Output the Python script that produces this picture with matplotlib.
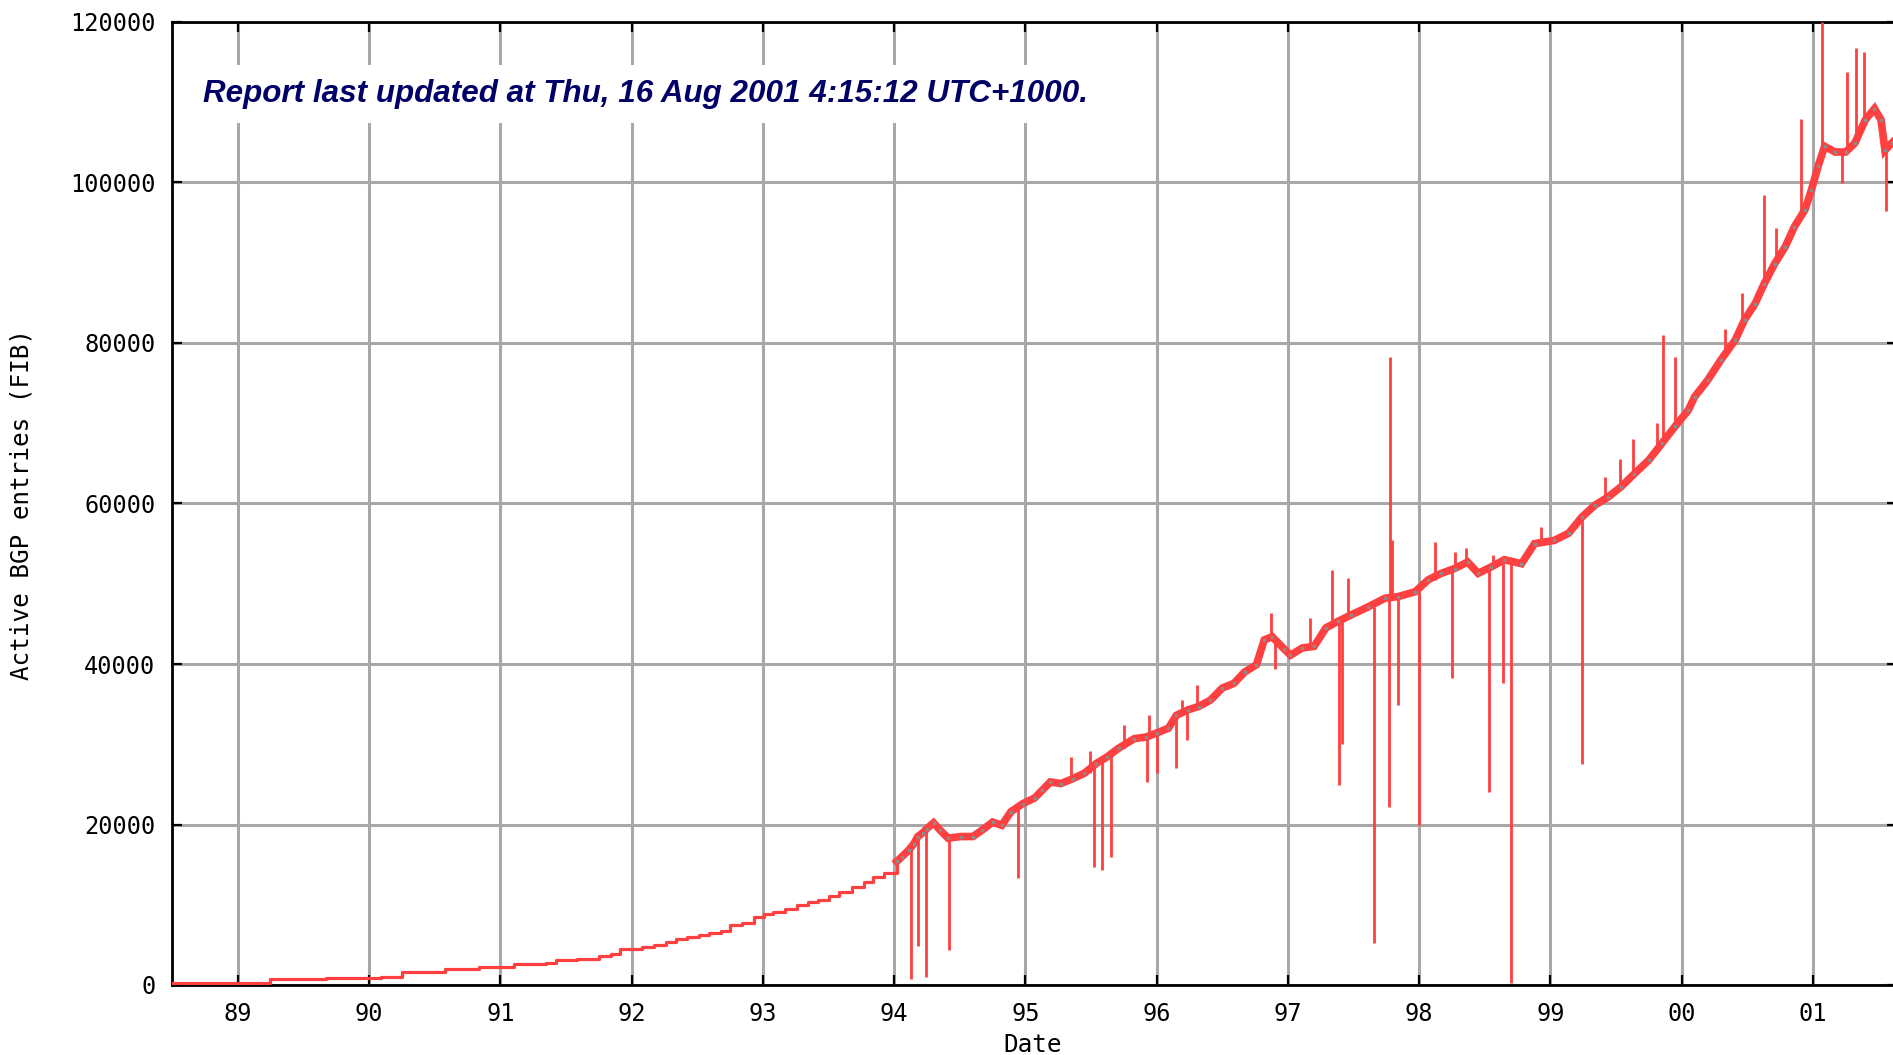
import numpy as np
import matplotlib
matplotlib.use('Agg')
import matplotlib.pyplot as plt

# --- data (decimal year, number of FIB entries) ---

# monthly snapshots up to 1994 (drawn as a staircase)
early_years = [88.50, 89.24, 89.67, 90.09, 90.25, 90.58, 90.84, 91.10, 91.35,
               91.42, 91.58, 91.75, 91.84, 91.91, 92.08, 92.17, 92.26, 92.34,
               92.42, 92.51, 92.59, 92.68, 92.75, 92.84, 92.93, 93.01, 93.08,
               93.17, 93.26, 93.34, 93.42, 93.50, 93.58, 93.68, 93.77, 93.84,
               93.92, 94.02]
early_counts = [200, 700, 910, 1030, 1620, 2030, 2240, 2580, 2780,
                3100, 3280, 3610, 3860, 4450, 4780, 5030, 5360, 5690,
                5940, 6190, 6440, 6730, 7440, 7760, 8510, 8810, 9130,
                9510, 9970, 10300, 10590, 11090, 11590, 12250, 12870, 13420,
                13990, 15400]

# daily samples from 1994 on (main trend of the noisy band)
daily_years = [94.02, 94.06, 94.11, 94.15, 94.18, 94.22, 94.25, 94.30, 94.35,
               94.41, 94.51, 94.60, 94.67, 94.75, 94.82, 94.89, 94.98, 95.07,
               95.13, 95.19, 95.27, 95.36, 95.45, 95.54, 95.62, 95.71, 95.83,
               95.92, 96.00, 96.09, 96.15, 96.24, 96.32, 96.41, 96.50, 96.59,
               96.67, 96.76, 96.82, 96.88, 96.97, 97.02, 97.11, 97.20, 97.29,
               97.38, 97.48, 97.61, 97.74, 97.84, 97.97, 98.07, 98.17, 98.27,
               98.37, 98.45, 98.55, 98.65, 98.78, 98.88, 99.03, 99.14, 99.24,
               99.34, 99.44, 99.54, 99.64, 99.75, 99.85, 99.95, 100.05, 100.10,
               100.20, 100.30, 100.41, 100.48, 100.56, 100.63, 100.71, 100.79,
               100.86, 100.94, 100.99, 101.04, 101.09, 101.17, 101.25, 101.32,
               101.40, 101.47, 101.52, 101.55, 101.60, 101.64]
daily_counts = [15400, 16000, 16800, 17600, 18500, 19000, 19500, 20200, 19300,
                18300, 18500, 18500, 19300, 20300, 19900, 21600, 22600, 23300,
                24300, 25300, 25100, 25700, 26400, 27600, 28400, 29500, 30700,
                30900, 31400, 32000, 33600, 34300, 34700, 35500, 37000, 37600,
                39000, 39900, 43000, 43400, 41900, 41100, 42000, 42200, 44500,
                45300, 46100, 47100, 48200, 48400, 49000, 50500, 51300, 51900,
                52700, 51300, 52100, 53000, 52500, 55000, 55400, 56300, 58300,
                59800, 60800, 62100, 63700, 65400, 67500, 69600, 71600, 73300,
                75400, 77900, 80400, 82900, 84900, 87400, 89900, 92000,
                94500, 96600, 99100, 102000, 104500, 103800, 103800, 104900,
                107800, 109200, 107800, 104000, 104900, 105500]

# short-lived drops (year, bottom, top)
drop_years = [94.13, 94.18, 94.24, 94.42, 94.94, 95.52, 95.58, 95.65, 95.93,
              96.00, 96.15, 96.23, 96.90, 97.39, 97.41, 97.66, 97.77, 97.84,
              98.00, 98.25, 98.53, 98.64, 98.70, 99.24, 101.22, 101.56]
drop_low = [700, 4900, 1000, 4400, 13300, 14700, 14300, 16000, 25300,
            26400, 27000, 30500, 39400, 24900, 30000, 5200, 22200, 34900,
            19900, 38200, 24100, 37600, 300, 27600, 99900, 96400]
drop_high = [17000, 18500, 19500, 18300, 22500, 27500, 28200, 29000, 31000,
             31400, 33600, 34200, 43400, 45400, 45500, 47100, 48000, 48400,
             49000, 51900, 52100, 52900, 52900, 58300, 103800, 104500]

# short-lived peaks (year, bottom, top)
peak_years = [95.35, 95.49, 95.75, 95.94, 96.19, 96.31, 96.87, 97.17, 97.34,
              97.46, 97.78, 97.79, 98.12, 98.27, 98.36, 98.56, 98.93, 99.42,
              99.53, 99.63, 99.81, 99.86, 99.95, 100.33, 100.46, 100.63,
              100.72, 100.91, 101.07, 101.26, 101.33, 101.39]
peak_low = [25700, 26400, 29500, 30900, 33600, 34600, 43400, 42000, 45000,
            46100, 48200, 48200, 50500, 51900, 52700, 52100, 55000, 60800,
            62000, 63700, 66500, 67300, 69500, 78500, 82000, 87400,
            90000, 95800, 104000, 103800, 105000, 107500]
peak_high = [28400, 29100, 32400, 33600, 35500, 37400, 46300, 45700, 51700,
             50700, 78300, 55500, 55200, 53900, 54400, 53600, 57100, 63300,
             65500, 68000, 70000, 81000, 78300, 81800, 86200, 98400,
             94300, 107900, 120000, 113800, 116700, 116300]

year_ticks = list(range(89, 102))
year_labels = ['89', '90', '91', '92', '93', '94', '95', '96', '97', '98',
               '99', '00', '01']
count_ticks = [0, 20000, 40000, 60000, 80000, 100000, 120000]

title = 'Report last updated at Thu, 16 Aug 2001 4:15:12 UTC+1000.'

red = '#ff4040'
grid_grey = '#a8a8a8'
mono = 'DejaVu Sans Mono'

fig = plt.figure(figsize=(18.93, 10.55), dpi=100)
ax = fig.add_axes([172 / 1893, 1 - 985 / 1055, 1 - 172 / 1893 + 0.002, (985 - 22) / 1055])

ax.step(early_years, early_counts, where='post', color=red, lw=2.3, zorder=3)
ax.plot(daily_years, daily_counts, color=red, lw=5.5, zorder=3,
        solid_joinstyle='miter')
ax.vlines(drop_years, drop_low, drop_high, color=red, lw=2, zorder=3)
ax.vlines(peak_years, peak_low, peak_high, color=red, lw=2, zorder=3)
ax.plot(daily_years, daily_counts, ls='none', marker='s', ms=1.6,
        color='#8c8c8c', zorder=4)

ax.set_xlim(88.497, 101.64)
ax.set_ylim(0, 120000)
ax.set_xticks(year_ticks)
ax.set_xticklabels(year_labels)
ax.set_yticks(count_ticks)
ax.set_yticklabels([str(v) for v in count_ticks])

ax.grid(True, color=grid_grey, lw=2.2, zorder=1)
ax.set_axisbelow(True)
ax.tick_params(direction='in', length=7, width=1.6, top=True, right=True,
               labelsize=17, color='black')
ax.tick_params(axis='x', pad=12)
ax.tick_params(axis='y', pad=12)
for lab in ax.get_xticklabels() + ax.get_yticklabels():
    lab.set_family(mono)
for side in ['left', 'bottom', 'top']:
    ax.spines[side].set_linewidth(2)
ax.spines['right'].set_visible(False)

fig.text(1033 / 1893, 1 - 1045 / 1055, 'Date', family=mono, fontsize=17.5,
         ha='center', va='center')
fig.text(22 / 1893, 1 - 505 / 1055, 'Active BGP entries (FIB)', family=mono,
         fontsize=17.5, rotation=90, ha='center', va='center')

fig.text(203 / 1893, 1 - 102 / 1055, title, family='Liberation Sans',
         fontsize=22.6, fontweight='bold', fontstyle='italic', color='#000066',
         ha='left', va='baseline',
         bbox=dict(facecolor='white', edgecolor='none', pad=10))

fig.savefig('out.png', dpi=100)
